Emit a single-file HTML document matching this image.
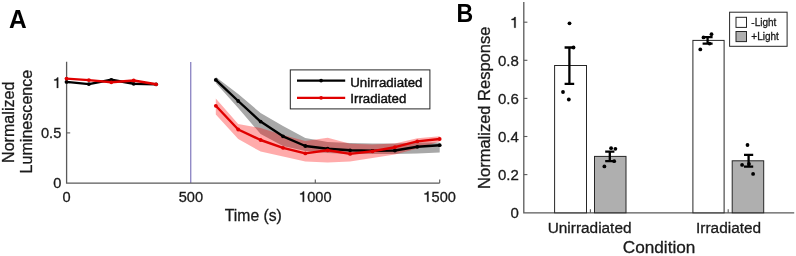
<!DOCTYPE html>
<html><head><meta charset="utf-8"><title>Figure</title>
<style>html,body{margin:0;padding:0;background:#fff;width:796px;height:256px;overflow:hidden}svg{display:block;will-change:transform}</style>
</head><body>
<svg width="796" height="256" viewBox="0 0 796 256">
<rect width="796" height="256" fill="#fff"/>
<text transform="translate(8.9,28) scale(0.95,1)" font-family="Liberation Sans, sans-serif" font-weight="bold" font-size="25.8" fill="#000">A</text>
<text transform="translate(456.6,21.9) scale(0.875,1)" font-family="Liberation Sans, sans-serif" font-weight="bold" font-size="26.4" fill="#000">B</text>
<polygon points="215.8,77.0 238.2,94.0 260.6,113.0 283.0,126.0 305.3,138.0 327.7,142.0 350.1,143.0 372.5,143.5 394.9,143.5 417.3,142.5 439.7,142.5 439.7,152.5 417.3,153.5 394.9,154.0 372.5,154.0 350.1,154.0 327.7,153.0 305.3,151.0 283.0,146.0 260.6,134.0 238.2,108.0 215.8,83.0" fill="#a8a8a8"/>
<polygon points="215.8,98.4 238.2,124.0 260.6,128.0 283.0,135.0 305.3,141.0 327.7,137.7 350.1,143.8 372.5,144.5 394.9,143.5 417.3,138.3 439.7,136.3 439.7,141.5 417.3,148.5 394.9,154.5 372.5,158.0 350.1,161.5 327.7,162.5 305.3,161.5 283.0,156.5 260.6,151.6 238.2,139.0 215.8,114.5" fill="#ff0000" fill-opacity="0.33"/>
<line x1="190.7" y1="62" x2="190.7" y2="183" stroke="#928bc6" stroke-width="1.4"/>
<path d="M66.6,61.8 V183.1 H439.7" fill="none" stroke="#5a5a5a" stroke-width="1.3"/>
<line x1="66.6" y1="132.9" x2="70.2" y2="132.9" stroke="#5a5a5a" stroke-width="1.1"/>
<line x1="66.6" y1="82.7" x2="70.2" y2="82.7" stroke="#5a5a5a" stroke-width="1.1"/>
<line x1="315.3" y1="183.1" x2="315.3" y2="179.5" stroke="#5a5a5a" stroke-width="1.1"/>
<line x1="439.7" y1="183.1" x2="439.7" y2="179.5" stroke="#5a5a5a" stroke-width="1.1"/>
<polyline points="66.5,81.9 88.9,84.1 111.3,79.8 133.7,83.8 156.1,84.3" fill="none" stroke="#000" stroke-width="2.4" stroke-linejoin="round"/>
<circle cx="66.5" cy="81.9" r="1.9" fill="#000"/><circle cx="88.9" cy="84.1" r="1.9" fill="#000"/><circle cx="111.3" cy="79.8" r="1.9" fill="#000"/><circle cx="133.7" cy="83.8" r="1.9" fill="#000"/><circle cx="156.1" cy="84.3" r="1.9" fill="#000"/>
<polyline points="66.5,78.6 88.9,80.1 111.3,82.3 133.7,80.5 156.1,84.3" fill="none" stroke="#e00000" stroke-width="2.4" stroke-linejoin="round"/>
<circle cx="66.5" cy="78.6" r="1.9" fill="#e00000"/><circle cx="88.9" cy="80.1" r="1.9" fill="#e00000"/><circle cx="111.3" cy="82.3" r="1.9" fill="#e00000"/><circle cx="133.7" cy="80.5" r="1.9" fill="#e00000"/><circle cx="156.1" cy="84.3" r="1.9" fill="#e00000"/>
<polyline points="215.8,79.9 238.2,101.0 260.6,121.6 283.0,136.3 305.3,146.0 327.7,148.7 350.1,150.3 372.5,150.8 394.9,150.5 417.3,146.8 439.7,145.2" fill="none" stroke="#000" stroke-width="2.4" stroke-linejoin="round"/>
<circle cx="215.8" cy="79.9" r="1.9" fill="#000"/><circle cx="238.2" cy="101.0" r="1.9" fill="#000"/><circle cx="260.6" cy="121.6" r="1.9" fill="#000"/><circle cx="283.0" cy="136.3" r="1.9" fill="#000"/><circle cx="305.3" cy="146.0" r="1.9" fill="#000"/><circle cx="327.7" cy="148.7" r="1.9" fill="#000"/><circle cx="350.1" cy="150.3" r="1.9" fill="#000"/><circle cx="372.5" cy="150.8" r="1.9" fill="#000"/><circle cx="394.9" cy="150.5" r="1.9" fill="#000"/><circle cx="417.3" cy="146.8" r="1.9" fill="#000"/><circle cx="439.7" cy="145.2" r="1.9" fill="#000"/>
<polyline points="215.8,105.8 238.2,129.5 260.6,140.0 283.0,147.8 305.3,153.4 327.7,150.3 350.1,153.9 372.5,151.3 394.9,147.2 417.3,141.4 439.7,139.0" fill="none" stroke="#e00000" stroke-width="2.4" stroke-linejoin="round"/>
<circle cx="215.8" cy="105.8" r="1.9" fill="#e00000"/><circle cx="238.2" cy="129.5" r="1.9" fill="#e00000"/><circle cx="260.6" cy="140.0" r="1.9" fill="#e00000"/><circle cx="283.0" cy="147.8" r="1.9" fill="#e00000"/><circle cx="305.3" cy="153.4" r="1.9" fill="#e00000"/><circle cx="327.7" cy="150.3" r="1.9" fill="#e00000"/><circle cx="350.1" cy="153.9" r="1.9" fill="#e00000"/><circle cx="372.5" cy="151.3" r="1.9" fill="#e00000"/><circle cx="394.9" cy="147.2" r="1.9" fill="#e00000"/><circle cx="417.3" cy="141.4" r="1.9" fill="#e00000"/><circle cx="439.7" cy="139.0" r="1.9" fill="#e00000"/>
<text x="61.3" y="188.3" font-family="Liberation Sans, sans-serif" fill="#1a1a1a" stroke="#1a1a1a" stroke-width="0.3" font-size="14.6" text-anchor="end">0</text>
<text x="61.3" y="138.1" font-family="Liberation Sans, sans-serif" fill="#1a1a1a" stroke="#1a1a1a" stroke-width="0.3" font-size="14.6" text-anchor="end">0.5</text>
<path transform="translate(53.18,87.9) scale(14.6,-14.6)" d="M0.250,0 L0.346,0 L0.346,0.709 L0.272,0.709 C0.248,0.622 0.172,0.582 0.072,0.576 L0.072,0.508 L0.250,0.508 Z" fill="#1a1a1a" stroke="#1a1a1a" stroke-width="0.0205"/>
<text x="62.44" y="201.8" font-family="Liberation Sans, sans-serif" fill="#1a1a1a" stroke="#1a1a1a" stroke-width="0.3" font-size="14.6">0</text>
<text x="178.72" y="201.8" font-family="Liberation Sans, sans-serif" fill="#1a1a1a" stroke="#1a1a1a" stroke-width="0.3" font-size="14.6">500</text>
<path transform="translate(299.06,201.8) scale(14.6,-14.6)" d="M0.250,0 L0.346,0 L0.346,0.709 L0.272,0.709 C0.248,0.622 0.172,0.582 0.072,0.576 L0.072,0.508 L0.250,0.508 Z" fill="#1a1a1a" stroke="#1a1a1a" stroke-width="0.0205"/><text x="307.18" y="201.8" font-family="Liberation Sans, sans-serif" fill="#1a1a1a" stroke="#1a1a1a" stroke-width="0.3" font-size="14.6">000</text>
<path transform="translate(423.46,201.8) scale(14.6,-14.6)" d="M0.250,0 L0.346,0 L0.346,0.709 L0.272,0.709 C0.248,0.622 0.172,0.582 0.072,0.576 L0.072,0.508 L0.250,0.508 Z" fill="#1a1a1a" stroke="#1a1a1a" stroke-width="0.0205"/><text x="431.58" y="201.8" font-family="Liberation Sans, sans-serif" fill="#1a1a1a" stroke="#1a1a1a" stroke-width="0.3" font-size="14.6">500</text>
<text x="253.3" y="221.3" font-family="Liberation Sans, sans-serif" fill="#1a1a1a" stroke="#1a1a1a" stroke-width="0.3" font-size="15.7" text-anchor="middle">Time (s)</text>
<text transform="translate(14.3,122.3) rotate(-90)" font-family="Liberation Sans, sans-serif" fill="#1a1a1a" stroke="#1a1a1a" stroke-width="0.3" font-size="16.1" text-anchor="middle">Normalized</text>
<text transform="translate(32,121.6) rotate(-90)" font-family="Liberation Sans, sans-serif" fill="#1a1a1a" stroke="#1a1a1a" stroke-width="0.3" font-size="16.1" text-anchor="middle">Luminescence</text>
<rect x="290.3" y="69.9" width="139.6" height="39" fill="#fff" stroke="#262626" stroke-width="1"/>
<line x1="297" y1="80.6" x2="345.2" y2="80.6" stroke="#000" stroke-width="2.2"/>
<circle cx="321.1" cy="80.6" r="1.9" fill="#000"/>
<line x1="297" y1="97.8" x2="345.2" y2="97.8" stroke="#e00000" stroke-width="2.2"/>
<circle cx="321.1" cy="97.8" r="1.9" fill="#e00000"/>
<text x="350.3" y="86.6" font-family="Liberation Sans, sans-serif" fill="#111" stroke="#111" stroke-width="0.45" font-size="13.25">Unirradiated</text>
<text x="350.3" y="103.1" font-family="Liberation Sans, sans-serif" fill="#111" stroke="#111" stroke-width="0.45" font-size="13.25">Irradiated</text>
<path d="M523.8,2.1 V212.9 H794.2" fill="none" stroke="#5a5a5a" stroke-width="1.3"/>
<text x="510.46" y="218.2" font-family="Liberation Sans, sans-serif" fill="#1a1a1a" stroke="#1a1a1a" stroke-width="0.3" font-size="15">0</text>
<line x1="523.8" y1="174.6" x2="527.4" y2="174.6" stroke="#5a5a5a" stroke-width="1.1"/>
<text x="497.95" y="180.1" font-family="Liberation Sans, sans-serif" fill="#1a1a1a" stroke="#1a1a1a" stroke-width="0.3" font-size="15">0.2</text>
<line x1="523.8" y1="136.5" x2="527.4" y2="136.5" stroke="#5a5a5a" stroke-width="1.1"/>
<text x="497.95" y="142.0" font-family="Liberation Sans, sans-serif" fill="#1a1a1a" stroke="#1a1a1a" stroke-width="0.3" font-size="15">0.4</text>
<line x1="523.8" y1="98.4" x2="527.4" y2="98.4" stroke="#5a5a5a" stroke-width="1.1"/>
<text x="497.95" y="103.9" font-family="Liberation Sans, sans-serif" fill="#1a1a1a" stroke="#1a1a1a" stroke-width="0.3" font-size="15">0.6</text>
<line x1="523.8" y1="60.3" x2="527.4" y2="60.3" stroke="#5a5a5a" stroke-width="1.1"/>
<text x="497.95" y="65.8" font-family="Liberation Sans, sans-serif" fill="#1a1a1a" stroke="#1a1a1a" stroke-width="0.3" font-size="15">0.8</text>
<line x1="523.8" y1="22.2" x2="527.4" y2="22.2" stroke="#5a5a5a" stroke-width="1.1"/>
<path transform="translate(510.46,27.7) scale(15,-15)" d="M0.250,0 L0.346,0 L0.346,0.709 L0.272,0.709 C0.248,0.622 0.172,0.582 0.072,0.576 L0.072,0.508 L0.250,0.508 Z" fill="#1a1a1a" stroke="#1a1a1a" stroke-width="0.0200"/>
<line x1="590.4" y1="212.8" x2="590.4" y2="209.2" stroke="#5a5a5a" stroke-width="1.1"/>
<line x1="728.2" y1="212.8" x2="728.2" y2="209.2" stroke="#5a5a5a" stroke-width="1.1"/>
<rect x="554.6" y="65.5" width="31.9" height="147.3" fill="#fff" stroke="#262626" stroke-width="1"/>
<rect x="594.5" y="156.4" width="31.5" height="56.4" fill="#afafaf" stroke="#262626" stroke-width="1"/>
<rect x="692.9" y="40.4" width="31.2" height="172.4" fill="#fff" stroke="#262626" stroke-width="1"/>
<rect x="732.2" y="160.8" width="31.5" height="52.0" fill="#afafaf" stroke="#262626" stroke-width="1"/>
<path d="M564.6,47.5 H574.1999999999999 M569.4,47.5 V83.8 M564.6,83.8 H574.1999999999999" stroke="#000" stroke-width="2.3" fill="none"/>
<path d="M605.1999999999999,151.7 H614.4 M609.8,151.7 V161.1 M605.1999999999999,161.1 H614.4" stroke="#000" stroke-width="2.3" fill="none"/>
<path d="M702.6,37.1 H712.6 M707.6,37.1 V43.6 M702.6,43.6 H712.6" stroke="#000" stroke-width="2.3" fill="none"/>
<path d="M744.0,154.9 H753.2 M748.6,154.9 V166.6 M744.0,166.6 H753.2" stroke="#000" stroke-width="2.3" fill="none"/>
<circle cx="569.5" cy="23.3" r="1.9" fill="#000"/>
<circle cx="573.5" cy="47.5" r="1.9" fill="#000"/>
<circle cx="563" cy="92" r="1.9" fill="#000"/>
<circle cx="568.8" cy="99.5" r="1.9" fill="#000"/>
<circle cx="611.1" cy="148.2" r="1.9" fill="#000"/>
<circle cx="615.4" cy="148.8" r="1.9" fill="#000"/>
<circle cx="604.4" cy="166.4" r="1.9" fill="#000"/>
<circle cx="614.2" cy="161.2" r="1.9" fill="#000"/>
<circle cx="711.5" cy="34.2" r="1.9" fill="#000"/>
<circle cx="700.3" cy="49.4" r="1.9" fill="#000"/>
<circle cx="703.5" cy="37.4" r="1.9" fill="#000"/>
<circle cx="709.5" cy="43.6" r="1.9" fill="#000"/>
<circle cx="747.5" cy="145" r="1.9" fill="#000"/>
<circle cx="742.1" cy="164.9" r="1.9" fill="#000"/>
<circle cx="753.1" cy="173.9" r="1.9" fill="#000"/>
<circle cx="749" cy="164" r="1.9" fill="#000"/>
<text x="589.6" y="233" font-family="Liberation Sans, sans-serif" fill="#1a1a1a" stroke="#1a1a1a" stroke-width="0.3" font-size="15.4" text-anchor="middle">Unirradiated</text>
<text x="728.6" y="233" font-family="Liberation Sans, sans-serif" fill="#1a1a1a" stroke="#1a1a1a" stroke-width="0.3" font-size="15.4" text-anchor="middle">Irradiated</text>
<text x="659.1" y="253.3" font-family="Liberation Sans, sans-serif" fill="#1a1a1a" stroke="#1a1a1a" stroke-width="0.3" font-size="17.2" text-anchor="middle">Condition</text>
<text transform="translate(489.5,107.8) rotate(-90)" font-family="Liberation Sans, sans-serif" fill="#1a1a1a" stroke="#1a1a1a" stroke-width="0.3" font-size="16.5" text-anchor="middle">Normalized Response</text>
<rect x="729.6" y="12.2" width="57.5" height="34.1" fill="#fff" stroke="#262626" stroke-width="1"/>
<rect x="736" y="17.3" width="10.5" height="10.1" fill="#fff" stroke="#262626" stroke-width="1"/>
<rect x="736" y="31.5" width="10.5" height="10.1" fill="#afafaf" stroke="#262626" stroke-width="1"/>
<text x="751.3" y="26.4" font-family="Liberation Sans, sans-serif" fill="#1a1a1a" stroke="#1a1a1a" stroke-width="0.3" font-size="10">-Light</text>
<text x="751.3" y="40" font-family="Liberation Sans, sans-serif" fill="#1a1a1a" stroke="#1a1a1a" stroke-width="0.3" font-size="10">+Light</text>
</svg>
</body></html>
